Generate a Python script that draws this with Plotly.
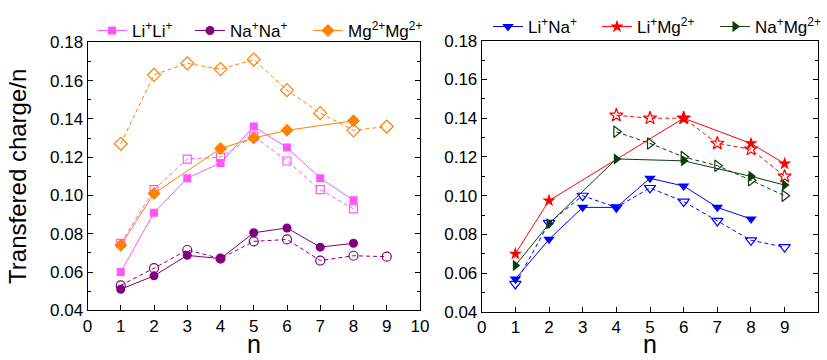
import plotly.graph_objects as go

# ---------------- data ----------------
# Left panel
n_liLi = [1, 2, 3, 4, 5, 6, 7, 8]
liLi_solid = [0.060, 0.091, 0.109, 0.117, 0.136, 0.125, 0.109, 0.0975]
liLi_dash = [0.075, 0.103, 0.119, 0.120, 0.131, 0.118, 0.103, 0.093]

n_naNa_solid = [1, 2, 3, 4, 5, 6, 7, 8]
naNa_solid = [0.051, 0.058, 0.0687, 0.067, 0.0805, 0.083, 0.073, 0.075]
n_naNa_dash = [1, 2, 3, 4, 5, 6, 7, 8, 9]
naNa_dash = [0.053, 0.062, 0.0715, 0.067, 0.076, 0.077, 0.066, 0.0685, 0.068]

n_mgMg_solid = [1, 2, 4, 5, 6, 8]
mgMg_solid = [0.074, 0.101, 0.1245, 0.130, 0.134, 0.139]
n_mgMg_dash = [1, 2, 3, 4, 5, 6, 7, 8, 9]
mgMg_dash = [0.127, 0.163, 0.169, 0.166, 0.171, 0.155, 0.143, 0.134, 0.136]

# Right panel
n_liNa_solid = [1, 2, 3, 4, 5, 6, 7, 8]
liNa_solid = [0.057, 0.0775, 0.094, 0.094, 0.109, 0.105, 0.094, 0.088]
n_liNa_dash = [1, 2, 3, 4, 5, 6, 7, 8, 9]
liNa_dash = [0.0545, 0.086, 0.100, 0.094, 0.104, 0.097, 0.087, 0.077, 0.0735]

n_liMg_solid = [1, 2, 6, 8, 9]
liMg_solid = [0.070, 0.0975, 0.140, 0.127, 0.1165]
n_liMg_dash = [4, 5, 6, 7, 8, 9]
liMg_dash = [0.1415, 0.140, 0.140, 0.127, 0.124, 0.110]

n_naMg_solid = [1, 2, 4, 6, 8, 9]
naMg_solid = [0.064, 0.0855, 0.119, 0.118, 0.110, 0.1055]
n_naMg_dash = [4, 5, 6, 7, 8, 9]
naMg_dash = [0.133, 0.127, 0.120, 0.1155, 0.108, 0.100]

x_ticks = list(range(0, 11))
y_ticks = [0.04, 0.06, 0.08, 0.10, 0.12, 0.14, 0.16, 0.18]

x_title = "n"
y_title = "Transfered charge/n"

names = {
    "liLi": "Li<sup>+</sup>Li<sup>+</sup>",
    "naNa": "Na<sup>+</sup>Na<sup>+</sup>",
    "mgMg": "Mg<sup>2+</sup>Mg<sup>2+</sup>",
    "liNa": "Li<sup>+</sup>Na<sup>+</sup>",
    "liMg": "Li<sup>+</sup>Mg<sup>2+</sup>",
    "naMg": "Na<sup>+</sup>Mg<sup>2+</sup>",
}

MAGENTA = "#FF55FF"
PURPLE = "#800080"
ORANGE = "#FF8000"
BLUE = "#0000FF"
RED = "#FF0000"
DGREEN = "#0B3D0B"

fig = go.Figure()


def add_pair(xs, ys, xd, yd, color, sym, size, name, xa, ya, legend):
    # dashed / open first so solid draws on top
    fig.add_trace(go.Scatter(
        x=xd, y=yd, mode="lines+markers", xaxis=xa, yaxis=ya,
        line=dict(color=color, width=1, dash="4px,3px"),
        marker=dict(symbol=sym + "-open", size=size, color=color,
                    line=dict(color=color, width=1.2)),
        showlegend=False, hoverinfo="skip"))
    fig.add_trace(go.Scatter(
        x=xs, y=ys, mode="lines+markers", xaxis=xa, yaxis=ya, name=name,
        line=dict(color=color, width=1),
        marker=dict(symbol=sym, size=size, color=color,
                    line=dict(color=color, width=0)),
        legend=legend))


add_pair(n_liLi, liLi_solid, n_liLi, liLi_dash, MAGENTA, "square", 8, names["liLi"], "x", "y", "legend")
add_pair(n_naNa_solid, naNa_solid, n_naNa_dash, naNa_dash, PURPLE, "circle", 9, names["naNa"], "x", "y", "legend2")
add_pair(n_mgMg_solid, mgMg_solid, n_mgMg_dash, mgMg_dash, ORANGE, "diamond", 10, names["mgMg"], "x", "y", "legend3")

add_pair(n_liNa_solid, liNa_solid, n_liNa_dash, liNa_dash, BLUE, "triangle-down", 10, names["liNa"], "x2", "y2", "legend4")
add_pair(n_liMg_solid, liMg_solid, n_liMg_dash, liMg_dash, RED, "star", 10, names["liMg"], "x2", "y2", "legend5")
add_pair(n_naMg_solid, naMg_solid, n_naMg_dash, naMg_dash, DGREEN, "triangle-right", 10, names["naMg"], "x2", "y2", "legend6")

W, H = 827, 360
FONT = "Liberation Sans"

xcommon = dict(range=[0, 10], tickvals=x_ticks, ticks="inside", ticklen=5,
               tickcolor="black", showline=True, linecolor="black", linewidth=1,
               mirror=True, showgrid=False, zeroline=False, automargin=False,
               tickfont=dict(size=17, color="black", family=FONT))
ycommon = dict(range=[0.04, 0.18], tickvals=y_ticks, tickformat=".2f", ticks="inside",
               ticklen=5, tickcolor="black", showline=True, linecolor="black",
               linewidth=1, mirror="ticks", showgrid=False, zeroline=False, automargin=False,
               minor=dict(dtick=0.01, ticks="inside", ticklen=3, tickcolor="black", showgrid=False),
               tickfont=dict(size=17, color="black", family=FONT))


def leg(text_x, y_px):
    return dict(orientation="h", x=(text_x - 42) / W, xanchor="left",
                y=1 - y_px / H, yanchor="middle",
                font=dict(size=17, color="black", family=FONT),
                bgcolor="rgba(0,0,0,0)", itemwidth=30)


left_dom = [87.5 / W, 420 / W]
right_dom = [481.7 / W, 818.3 / W]

fig.update_layout(
    width=W, height=H,
    margin=dict(l=0, r=0, t=0, b=0, autoexpand=False),
    paper_bgcolor="white", plot_bgcolor="white",
    font=dict(family=FONT, color="black"),
    xaxis=dict(domain=left_dom, anchor="y", **xcommon),
    yaxis=dict(domain=[1 - 310.3 / H, 1 - 42.3 / H], anchor="x",
               title=dict(text=y_title, font=dict(size=24, color="black", family=FONT), standoff=16),
               **ycommon),
    xaxis2=dict(domain=right_dom, anchor="y2", **xcommon),
    yaxis2=dict(domain=[1 - 312 / H, 1 - 40.7 / H], anchor="x2", **ycommon),
    legend=leg(134, 31),
    legend2=leg(232, 31),
    legend3=leg(350, 31),
    legend4=leg(530, 27),
    legend5=leg(639, 27),
    legend6=leg(757, 27),
)

for dom in (left_dom, right_dom):
    fig.add_annotation(text=x_title, xref="paper", yref="paper",
                       x=(dom[0] + dom[1]) / 2, y=0, xanchor="center", yanchor="bottom",
                       showarrow=False, font=dict(size=25, color="black", family=FONT))

fig.write_html("out.html",
               config={"displayModeBar": False},
               post_script="document.body.style.margin='0';document.body.style.overflow='hidden';")
